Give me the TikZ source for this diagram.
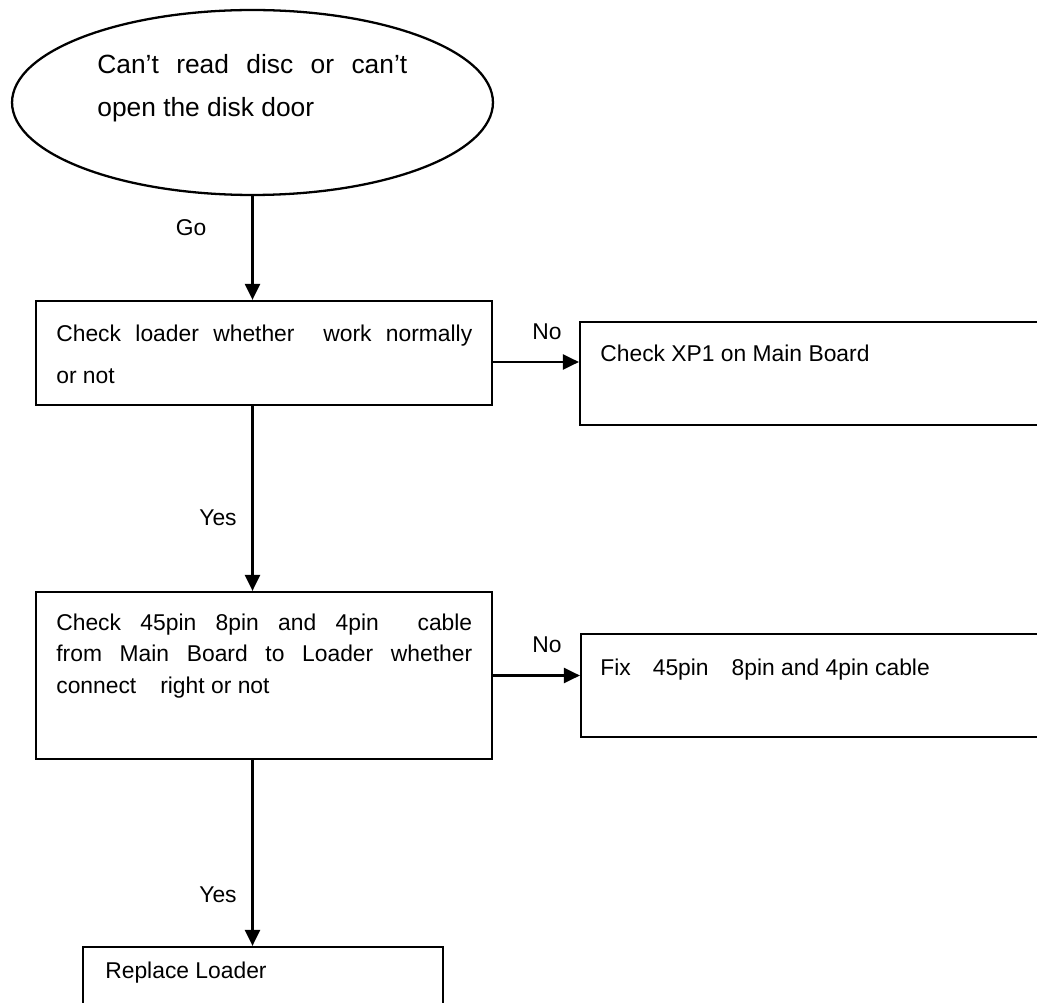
\documentclass[tikz,border=0pt]{standalone}
\usepackage{fontspec}
\setmainfont{Liberation Sans}
\usetikzlibrary{arrows.meta,shapes.geometric}
\definecolor{ink}{RGB}{0,0,0}
\tikzset{
  >={Triangle[length=3.2mm,width=3mm]},
  box/.style={draw=ink,line width=1.3pt,inner sep=0pt,minimum width=#1},
  box/.default=91.2mm,
  oval/.style={ellipse,draw=ink,line width=1.3pt,inner sep=0pt,
    minimum width=96.2mm,minimum height=37mm},
  flow/.style={->,line width=1.3pt,draw=ink},
  txt/.style={font=\fontsize{13}{24}\selectfont,text=ink,inner sep=0pt,
    anchor=base west,align=justify,text width=#1},
  txt/.default=83.2mm,
  tag/.style={font=\fontsize{13}{16}\selectfont,text=ink,inner sep=0pt},
}
\begin{document}
\begin{tikzpicture}[x=0.02cm,y=-0.02cm]
  \useasboundingbox (0,0) rectangle (1037,1003);
  \clip (0,0) rectangle (1037,1003);
  % shapes
  \node[oval] (start) at (252.5,102.5) {};
  \node[box,minimum height=20.8mm] (b1) at (264,353) {};
  \node[box=104mm,minimum height=20.6mm] (b2) at (840,373.5) {};
  \node[box,minimum height=33.4mm] (b3) at (264,675.5) {};
  \node[box=103.8mm,minimum height=20.6mm] (b5) at (840.5,685.5) {};
  \node[box=72mm,minimum height=20.6mm] (b4) at (263,998.5) {};
  % texts
  \node[txt=62mm,font=\fontsize{15}{24}\selectfont] (t0) at (97,74)
    {Can’t read disc or can’t\linebreak open the disk door};
  \node[txt] (t1) at (56,341)
    {Check loader whether\ \ work normally\linebreak or not};
  \node[txt=100mm] (t2) at (600,361) {Check XP1 on Main Board};
  \node[txt,font=\fontsize{13}{18}\selectfont] (t3) at (56,630)
    {Check 45pin 8pin and 4pin\ \ cable\linebreak from Main Board to Loader whether\linebreak
     connect\hspace{0.48cm}right or not};
  \node[txt=100mm] (t5) at (600,675)
    {Fix\hspace{0.44cm}45pin\hspace{0.46cm}8pin and 4pin cable};
  \node[txt=60mm] (t4) at (105,978) {Replace Loader};
  % connectors
  \draw[flow] (start.south) -- (start.south |- b1.north);
  \draw[flow] ([yshift=-0.18cm]b1.east) -- ([yshift=-0.18cm]b1.east -| b2.west);
  \draw[flow] (start.south |- b1.south) -- (start.south |- b3.north);
  \draw[flow] (b3.east) -- (b3.east -| b5.west);
  \draw[flow] (start.south |- b3.south) -- (start.south |- b4.north);
  \node[tag] (go) at (191,228) {Go};
  \node[tag] (yes1) at (218,518) {Yes};
  \node[tag] (no1) at (547,332) {No};
  \node[tag] (no2) at (547,645) {No};
  \node[tag] (yes2) at (218,895) {Yes};
\end{tikzpicture}
\end{document}
